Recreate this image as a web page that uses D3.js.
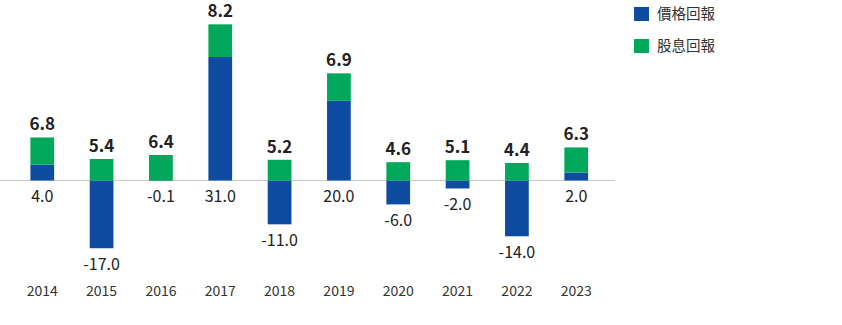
<!DOCTYPE html>
<html>
<head>
<meta charset="utf-8">
<script src="https://cdn.jsdelivr.net/npm/d3@7"></script>
<style>
  html, body { margin: 0; padding: 0; background: #fff; }
  svg text { font-family: "Noto Sans CJK TC", "Noto Sans", sans-serif; }
</style>
</head>
<body>
<div id="chart"></div>
<script>

// yearly returns (%)
const years = ['2014', '2015', '2016', '2017', '2018', '2019', '2020', '2021', '2022', '2023'];
const priceReturn = [4.0, -17.0, -0.1, 31.0, -11.0, 20.0, -6.0, -2.0, -14.0, 2.0];
const dividendReturn = [6.8, 5.4, 6.4, 8.2, 5.2, 6.9, 4.6, 5.1, 4.4, 6.3];
const legendLabels = ['價格回報', '股息回報'];
const colors = ['#0e4ca1', '#00a85b'];

function createSVGViewbox(containerId, width, height) {
    try {
        return d3.select(containerId)
            .append('svg')
            .attr('width', width)
            .attr('height', height)
            .attr('viewBox', '0 0 ' + width + ' ' + height);
    } catch (error) {
        console.log('createSVGViewbox error: ' + error);
        return null;
    }
}

function drawReturns(svg) {
    try {
        let x = d3.scaleBand()
            .domain(years)
            .range([12.6, 605.9])
            .paddingInner(0.6)
            .paddingOuter(0.3);

        let y = d3.scaleLinear()
            .domain([0, 31])
            .range([180.5, 57]);

        let rows = years.map((yr, i) => ({
            year: yr,
            price: priceReturn[i],
            dividend: dividendReturn[i],
            base: Math.max(0, priceReturn[i])
        }));

        // zero line
        svg.append('line')
            .attr('x1', 0).attr('x2', 615)
            .attr('y1', y(0)).attr('y2', y(0))
            .attr('stroke', '#c8c8c8')
            .attr('stroke-width', 1);

        // price return bars
        svg.selectAll('rect.price')
            .data(rows).enter()
            .append('rect')
            .attr('class', 'price')
            .attr('x', d => x(d.year))
            .attr('width', x.bandwidth())
            .attr('y', d => y(Math.max(0, d.price)))
            .attr('height', d => Math.abs(y(d.price) - y(0)))
            .attr('fill', colors[0]);

        // dividend return stacked above the positive part
        svg.selectAll('rect.dividend')
            .data(rows).enter()
            .append('rect')
            .attr('class', 'dividend')
            .attr('x', d => x(d.year))
            .attr('width', x.bandwidth())
            .attr('y', d => y(d.base + d.dividend))
            .attr('height', d => y(d.base) - y(d.base + d.dividend))
            .attr('fill', colors[1]);

        // dividend labels on top
        svg.selectAll('text.divLabel')
            .data(rows).enter()
            .append('text')
            .attr('class', 'divLabel')
            .attr('x', d => x(d.year) + x.bandwidth() / 2)
            .attr('y', d => y(d.base + d.dividend) - 7)
            .attr('text-anchor', 'middle')
            .attr('font-size', 17)
            .attr('font-weight', 'bold')
            .attr('fill', '#222')
            .text(d => d.dividend.toFixed(1));

        // price labels below
        svg.selectAll('text.priceLabel')
            .data(rows).enter()
            .append('text')
            .attr('class', 'priceLabel')
            .attr('x', d => x(d.year) + x.bandwidth() / 2)
            .attr('y', d => Math.max(y(0), y(d.price)) + 21.5)
            .attr('text-anchor', 'middle')
            .attr('font-size', 16)
            .attr('fill', '#222')
            .text(d => d.price.toFixed(1));

        // year axis
        let axis = svg.append('g')
            .attr('transform', 'translate(0,286)')
            .call(d3.axisBottom(x).tickSize(0).tickPadding(0));
        axis.select('.domain').remove();
        axis.selectAll('text')
            .attr('font-size', 14)
            .attr('fill', '#333')
            .attr('dy', '0.71em');

        // legend
        let legend = svg.selectAll('g.legend')
            .data(legendLabels).enter()
            .append('g')
            .attr('class', 'legend')
            .attr('transform', (d, i) => 'translate(634,' + (7 + i * 32) + ')');
        legend.append('rect')
            .attr('width', 15).attr('height', 14)
            .attr('fill', (d, i) => colors[i]);
        legend.append('text')
            .attr('x', 23).attr('y', 7)
            .attr('dy', '0.35em')
            .attr('font-size', 14.5)
            .attr('fill', '#333')
            .text(d => d);

    } catch (error) {
        console.log('drawReturns error: ' + error);
    }
}

let svg = createSVGViewbox('#chart', 842, 325);
drawReturns(svg);
</script>
</body>
</html>
